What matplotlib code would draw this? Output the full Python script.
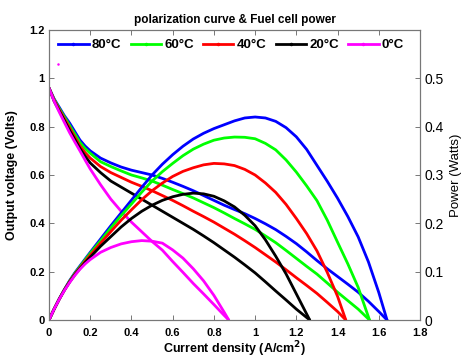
import matplotlib
matplotlib.use("Agg")
import matplotlib.pyplot as plt
from matplotlib.lines import Line2D

plt.rcParams['font.family'] = ['Liberation Sans', 'DejaVu Sans']

# Temperature series
labels = ['80°C', '60°C', '40°C', '20°C', '0°C']
colors = ['#0000ff', '#00ff00', '#ff0000', '#000000', '#ff00ff']

# Current density (A/cm^2) sample points shared by the series, up to each limiting current
i_grid = [0, 0.025, 0.05, 0.075, 0.1, 0.125, 0.15, 0.175, 0.2, 0.25, 0.3, 0.35, 0.4, 0.45,
          0.5, 0.55, 0.6, 0.65, 0.7, 0.75, 0.8, 0.85, 0.9, 0.95, 1.0, 1.05, 1.1, 1.15,
          1.2, 1.25, 1.3, 1.35, 1.4, 1.45, 1.5, 1.55, 1.6]
i_limit = [1.64, 1.555, 1.44, 1.265, 0.872]

# Output voltage (V)
v_80 = [0.96, 0.915, 0.88, 0.845, 0.815, 0.78, 0.745, 0.72, 0.70, 0.67, 0.65, 0.633, 0.62, 0.61,
        0.60, 0.586, 0.57, 0.553, 0.535, 0.515, 0.495, 0.475, 0.457, 0.44, 0.42, 0.398, 0.374, 0.346,
        0.316, 0.282, 0.246, 0.212, 0.18, 0.148, 0.115, 0.077, 0.035, 0.0]
v_60 = [0.96, 0.913, 0.875, 0.84, 0.805, 0.77, 0.735, 0.71, 0.69, 0.655, 0.635, 0.617, 0.60, 0.588,
        0.575, 0.558, 0.54, 0.523, 0.505, 0.485, 0.465, 0.443, 0.42, 0.398, 0.375, 0.348, 0.32, 0.288,
        0.255, 0.222, 0.19, 0.153, 0.115, 0.08, 0.045, 0.0]
v_40 = [0.96, 0.91, 0.87, 0.832, 0.795, 0.757, 0.72, 0.693, 0.67, 0.635, 0.61, 0.59, 0.57, 0.553,
        0.535, 0.515, 0.495, 0.473, 0.45, 0.428, 0.405, 0.38, 0.355, 0.328, 0.30, 0.27, 0.24, 0.208,
        0.175, 0.143, 0.11, 0.073, 0.035, 0.0]
v_20 = [0.96, 0.905, 0.865, 0.825, 0.785, 0.747, 0.71, 0.678, 0.65, 0.61, 0.575, 0.55, 0.525, 0.50,
        0.475, 0.45, 0.425, 0.40, 0.375, 0.348, 0.32, 0.29, 0.26, 0.228, 0.195, 0.158, 0.12, 0.083,
        0.045, 0.0]
v_0 = [0.96, 0.905, 0.86, 0.817, 0.775, 0.737, 0.70, 0.662, 0.625, 0.56, 0.50, 0.45, 0.405, 0.365,
       0.325, 0.289, 0.242, 0.197, 0.151, 0.108, 0.064, 0.019, 0.0]

# Fuel cell power (W)
p_80 = [0, 0.0229, 0.044, 0.0634, 0.0815, 0.0975, 0.1118, 0.126, 0.14, 0.1675, 0.195, 0.2216, 0.248,
        0.2745, 0.30, 0.3223, 0.342, 0.3595, 0.3745, 0.3863, 0.396, 0.404, 0.412, 0.418, 0.42, 0.418,
        0.411, 0.398, 0.379, 0.353, 0.32, 0.287, 0.252, 0.214, 0.172, 0.12, 0.057, 0.0]
p_60 = [0, 0.0228, 0.0438, 0.063, 0.0805, 0.0963, 0.1103, 0.1243, 0.138, 0.1638, 0.1905, 0.216, 0.24,
        0.2646, 0.2875, 0.3069, 0.324, 0.34, 0.3535, 0.3638, 0.372, 0.3765, 0.3785, 0.378, 0.375,
        0.3654, 0.352, 0.3312, 0.306, 0.2775, 0.247, 0.2066, 0.161, 0.116, 0.0675, 0.0]
p_40 = [0, 0.0228, 0.0435, 0.0624, 0.0795, 0.0946, 0.108, 0.1213, 0.134, 0.1588, 0.183, 0.2065, 0.228,
        0.2489, 0.2675, 0.2833, 0.297, 0.3075, 0.315, 0.321, 0.324, 0.323, 0.3195, 0.3116, 0.30,
        0.2835, 0.264, 0.2392, 0.21, 0.1788, 0.143, 0.0986, 0.049, 0.0]
p_20 = [0, 0.0226, 0.0433, 0.0619, 0.0785, 0.0934, 0.1065, 0.1187, 0.13, 0.1525, 0.1725, 0.1925, 0.21,
        0.225, 0.2375, 0.2475, 0.255, 0.26, 0.2625, 0.261, 0.256, 0.2465, 0.234, 0.2166, 0.195,
        0.1659, 0.132, 0.0955, 0.054, 0.0]
p_0 = [0, 0.0226, 0.043, 0.0613, 0.0775, 0.0921, 0.105, 0.1159, 0.125, 0.14, 0.15, 0.1575, 0.162,
       0.1643, 0.163, 0.159, 0.145, 0.128, 0.106, 0.081, 0.051, 0.016, 0.0]

# isolated sample of the 0°C run
stray_i = [0.045]
stray_v = [1.058]

voltages = [v_80, v_60, v_40, v_20, v_0]
powers = [p_80, p_60, p_40, p_20, p_0]

fig = plt.figure(figsize=(4.62, 3.58), dpi=100)
ax = fig.add_axes([49 / 462, 38 / 358, 371 / 462, 290 / 358])
ax2 = ax.twinx()

lw = 2.0
for vol, pw, lim, col in zip(voltages, powers, i_limit, colors):
    cur = i_grid[:len(vol) - 1] + [lim]
    ax.plot(cur, vol, color=col, lw=lw, solid_capstyle='round', solid_joinstyle='round')
    ax2.plot(cur, pw, color=col, lw=lw, solid_capstyle='round', solid_joinstyle='round')
ax.plot(stray_i, stray_v, 'o', color='#ff00ff', ms=1.8, mec='none')

ax.set_xlim(0, 1.8)
ax.set_ylim(0, 1.2)
ax2.set_ylim(0, 0.6)

ax.set_xticks([0, 0.2, 0.4, 0.6, 0.8, 1.0, 1.2, 1.4, 1.6, 1.8])
ax.set_xticklabels(['0', '0.2', '0.4', '0.6', '0.8', '1', '1.2', '1.4', '1.6', '1.8'])
ax.set_yticks([0, 0.2, 0.4, 0.6, 0.8, 1.0, 1.2])
ax.set_yticklabels(['0', '0.2', '0.4', '0.6', '0.8', '1', '1.2'])
ax2.set_yticks([0, 0.1, 0.2, 0.3, 0.4, 0.5, 0.6])
ax2.set_yticklabels(['0', '0.1', '0.2', '0.3', '0.4', '0.5', ''])

frame_col = '#777777'
for a in (ax, ax2):
    for s in a.spines.values():
        s.set_color(frame_col)
        s.set_linewidth(0.8)
ax.tick_params(axis='both', direction='in', length=3.5, width=0.7, color=frame_col,
               labelsize=8, top=True)
ax.tick_params(axis='x', pad=6)
ax.tick_params(axis='y', pad=3, right=False)
ax2.tick_params(axis='y', direction='in', length=3.5, width=0.7, color=frame_col,
                labelsize=10, pad=3)
for lab in ax.get_xticklabels() + ax.get_yticklabels():
    lab.set_fontweight('bold')

ax.set_xlabel('Current density (A/cm$^\\mathbf{2}$)', fontsize=9, fontweight='bold', labelpad=1)
ax.set_ylabel('Output voltage (Volts)', fontsize=9, fontweight='bold', labelpad=8)
ax2.set_ylabel('Power (Watts)', fontsize=9.5, labelpad=5)
ax.set_title('polarization curve & Fuel cell power', fontsize=8.5, fontweight='bold', pad=5)

handles = [Line2D([], [], color=c, lw=lw, marker='.', ms=3) for c in colors]
leg = ax.legend(handles, labels, loc='upper left', bbox_to_anchor=(0.0, 1.0), ncol=5,
                frameon=False, fontsize=9.5, handlelength=2.3, handletextpad=0.25,
                columnspacing=0.7, borderaxespad=0.3)
for t in leg.get_texts():
    t.set_fontweight('bold')

fig.savefig('out.png', dpi=100)
